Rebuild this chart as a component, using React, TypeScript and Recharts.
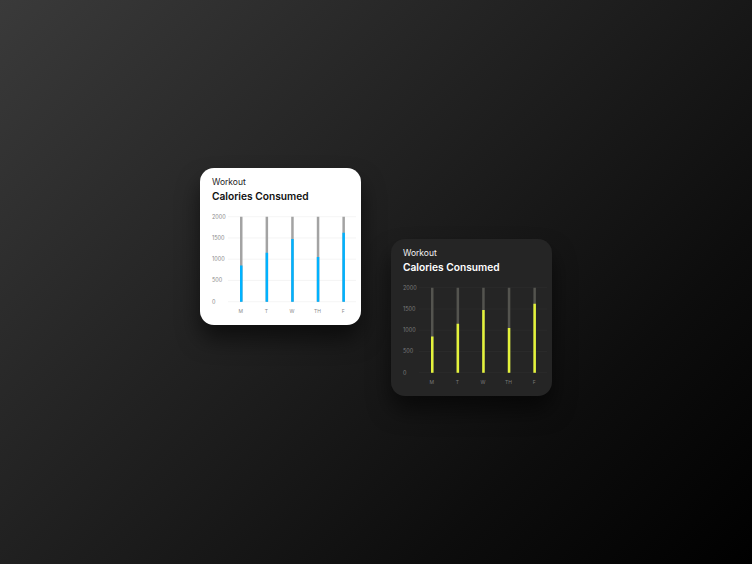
import { Bar, BarChart, CartesianGrid, XAxis, YAxis } from "recharts";

const days = ["M", "T", "W", "TH", "F"];
const calories = [850, 1150, 1475, 1050, 1625];
const yTicks = [0, 500, 1000, 1500, 2000];

const data = days.map((day, i) => ({ day, value: calories[i] }));

const light = {
  bg: "#ffffff",
  label: "#222222",
  title: "#111111",
  tick: "#8a8a8a",
  grid: "#efefef",
  track: "#a3a3a3",
  bar: "#00b2ff",
};

const dark = {
  bg: "#252525",
  label: "#f2f2f2",
  title: "#ffffff",
  tick: "#7a7a7a",
  grid: "#2f2f2f",
  track: "#54544f",
  bar: "#e4f33a",
};

const font = "Inter, 'Open Sans', sans-serif";

function Card({ left, top, theme }: { left: number; top: number; theme: typeof light }) {
  const renderYTick = (props: any) => (
    <text
      key={props.payload.value}
      x={12}
      y={props.y}
      dy="0.35em"
      fontSize={5.5}
      fill={theme.tick}
      fontFamily={font}
    >
      {props.payload.value}
    </text>
  );

  return (
    <div
      style={{
        position: "absolute",
        left,
        top,
        width: 161,
        height: 157,
        borderRadius: 14,
        background: theme.bg,
        boxShadow: "0 14px 22px rgba(0,0,0,0.55)",
        overflow: "hidden",
        fontFamily: font,
      }}
    >
      <div
        style={{
          position: "absolute",
          left: 12,
          top: 9,
          fontSize: 8.5,
          color: theme.label,
        }}
      >
        Workout
      </div>
      <div
        style={{
          position: "absolute",
          left: 12,
          top: 22,
          fontSize: 10.2,
          fontWeight: 600,
          color: theme.title,
          whiteSpace: "nowrap",
        }}
      >
        Calories Consumed
      </div>
      <div style={{ position: "absolute", left: 0, top: 0 }}>
        <BarChart
          width={161}
          height={157}
          data={data}
          margin={{ top: 48.7, right: 5, bottom: 3.3, left: 12 }}
        >
          <CartesianGrid vertical={false} stroke={theme.grid} strokeWidth={0.6} />
          <XAxis
            dataKey="day"
            axisLine={false}
            tickLine={false}
            height={20}
            interval={0}
            tick={{ fontSize: 5, fill: theme.tick, fontFamily: font }}
          />
          <YAxis
            domain={[0, 2000]}
            ticks={yTicks}
            interval={0}
            width={16}
            axisLine={false}
            tickLine={false}
            tick={renderYTick}
          />
          <Bar
            dataKey="value"
            fill={theme.bar}
            barSize={2.5}
            background={{ fill: theme.track }}
            isAnimationActive={false}
          />
        </BarChart>
      </div>
    </div>
  );
}

export default function App() {
  return (
    <div
      style={{
        position: "fixed",
        left: 0,
        top: 0,
        width: 752,
        height: 564,
        overflow: "hidden",
        background: "linear-gradient(135deg, #3a3a3a 0%, #1f1f1f 45%, #0d0d0d 75%, #000000 100%)",
      }}
    >
      <Card left={200} top={168} theme={light} />
      <Card left={391} top={239} theme={dark} />
    </div>
  );
}
